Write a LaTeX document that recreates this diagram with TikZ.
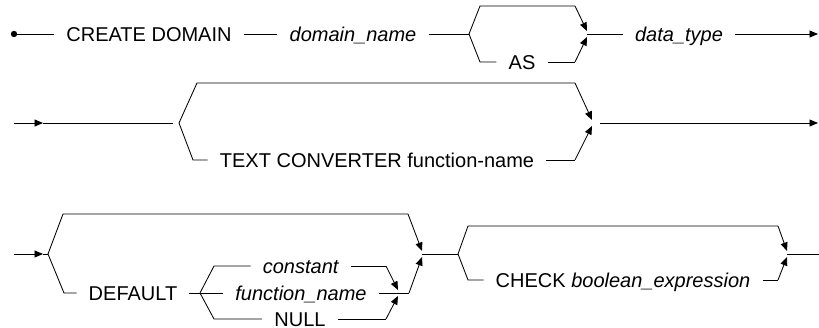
\documentclass[tikz,border=0pt]{standalone}
\usepackage{fontspec}
\setmainfont{Liberation Sans}
\usetikzlibrary{arrows.meta}
\begin{document}
\begin{tikzpicture}[x=1pt,y=-1pt,
  rail/.style={line width=0.85pt},
  arr/.style={rail, -{Triangle[length=8.5pt,width=7pt]}},
  lbl/.style={font=\fontsize{20}{24}\selectfont, inner xsep=12pt, inner ysep=0pt,
              text height=14.3pt, text depth=0pt, anchor=center},
]
\useasboundingbox (0,0) rectangle (819,328);

% ---------- Row 1 ----------
\coordinate (s1) at (14,34);
\fill (s1) circle (3.2);
\node[lbl] (cd) at (149,34) {CREATE DOMAIN};
\node[lbl] (dn) at (353,34) {\textit{domain\_name}};
\coordinate (b1) at (469,34);
\coordinate (b1u) at (480,6);
\coordinate (b1ue) at (575,6);
\coordinate (m1u) at (587,31);
\coordinate (b1l) at (480,62);
\node[lbl] (as) at (522,62) {AS};
\coordinate (b1le) at (575,62);
\coordinate (m1l) at (587,37);
\coordinate (m1) at (587,34);
\node[lbl] (dt) at (679,34) {\textit{data\_type}};
\coordinate (e1) at (818,34);

\draw[rail] (s1) -- (cd);
\draw[rail] (cd) -- (dn);
\draw[rail] (dn) -- (b1);
\draw[rail] (b1) -- (b1u) -- (b1ue);
\draw[arr] (b1ue) -- (m1u);
\draw[rail] (b1) -- (b1l) -- (as);
\draw[rail] (as) -- (b1le);
\draw[arr] (b1le) -- (m1l);
\draw[rail] (m1) -- (dt);
\draw[arr] (dt) -- (e1);

% ---------- Row 2 ----------
\coordinate (s2) at (14,123);
\coordinate (a2) at (43,123);
\coordinate (l2) at (173,123);
\coordinate (b2) at (179,123);
\coordinate (b2u) at (197,83);
\coordinate (b2ue) at (575,83);
\coordinate (m2u) at (592,120);
\coordinate (b2l) at (193,160);
\node[lbl] (tc) at (377,160) {TEXT CONVERTER function-name};
\coordinate (b2le) at (575,160);
\coordinate (m2l) at (592,126);
\coordinate (r2) at (600,123);
\coordinate (e2) at (818,123);

\draw[arr] (s2) -- (a2);
\draw[rail] (a2) -- (l2);
\draw[rail] (b2) -- (b2u) -- (b2ue);
\draw[arr] (b2ue) -- (m2u);
\draw[rail] (b2) -- (b2l) -- (tc);
\draw[rail] (tc) -- (b2le);
\draw[arr] (b2le) -- (m2l);
\draw[arr] (r2) -- (e2);

% ---------- Row 3 ----------
\coordinate (s3) at (14,254);
\coordinate (a3) at (43,254);
\coordinate (b3) at (48,254);
\coordinate (b3u) at (63,214);
\coordinate (b3ue) at (408,214);
\coordinate (m3u) at (422,251);
\coordinate (b3l) at (64,293);
\node[lbl] (df) at (133,293) {DEFAULT};
\coordinate (n3) at (200,293);
\coordinate (n3u) at (214,266);
\node[lbl] (co) at (301,266) {\textit{constant}};
\coordinate (n3ue) at (386,266);
\coordinate (k3u) at (398,290);
\node[lbl] (fn) at (301,293) {\textit{function\_name}};
\coordinate (k3) at (398,293);
\coordinate (n3l) at (214,319);
\node[lbl] (nu) at (300,319) {NULL};
\coordinate (n3le) at (386,319);
\coordinate (k3l) at (398,296);
\coordinate (b3le) at (409,293);
\coordinate (m3l) at (422,257);
\coordinate (m3) at (422,254);
\coordinate (c3) at (458,254);
\coordinate (c3u) at (468,226);
\coordinate (c3ue) at (778,226);
\coordinate (p3u) at (787,251);
\coordinate (c3l) at (468,280);
\node[lbl] (ck) at (623,280) {CHECK \textit{boolean\_expression}};
\coordinate (c3le) at (778,280);
\coordinate (p3l) at (787,257);
\coordinate (p3) at (787,254);
\coordinate (e3) at (819,254);

\draw[arr] (s3) -- (a3);
\draw[rail] (a3) -- (b3);
\draw[rail] (b3) -- (b3u) -- (b3ue);
\draw[arr] (b3ue) -- (m3u);
\draw[rail] (b3) -- (b3l) -- (df);
\draw[rail] (df) -- (n3);
\draw[rail] (n3) -- (n3u) -- (co);
\draw[rail] (co) -- (n3ue);
\draw[arr] (n3ue) -- (k3u);
\draw[rail] (n3) -- (fn);
\draw[rail] (fn) -- (k3);
\draw[rail] (n3) -- (n3l) -- (nu);
\draw[rail] (nu) -- (n3le);
\draw[arr] (n3le) -- (k3l);
\draw[rail] (k3) -- (b3le);
\draw[arr] (b3le) -- (m3l);
\draw[rail] (m3) -- (c3);
\draw[rail] (c3) -- (c3u) -- (c3ue);
\draw[arr] (c3ue) -- (p3u);
\draw[rail] (c3) -- (c3l) -- (ck);
\draw[rail] (ck) -- (c3le);
\draw[arr] (c3le) -- (p3l);
\draw[rail] (p3) -- (e3);
\end{tikzpicture}
\end{document}
